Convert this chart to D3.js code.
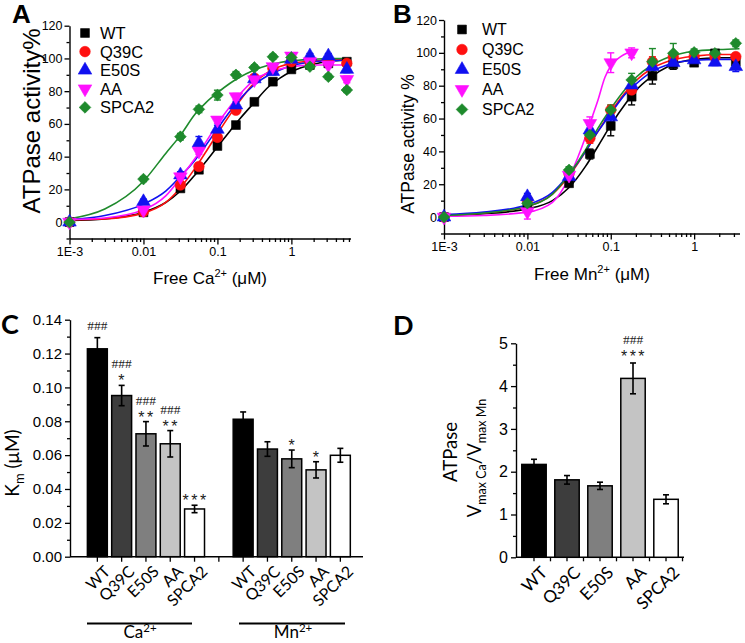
<!DOCTYPE html>
<html><head><meta charset="utf-8">
<script src="https://cdn.jsdelivr.net/npm/d3@7"></script>
<style>body{margin:0;background:#fff} svg{display:block}</style>
</head><body>
<script>
// ---------- DATA ----------
const seriesNames = ["WT", "Q39C", "E50S", "AA", "SPCA2"];
const seriesColors = ["#000000", "#ff1010", "#1010f0", "#ff10ff", "#1e8a2c"];
const seriesSymbols = ["square", "circle", "triangle", "invtriangle", "diamond"];

// Panel A: Ca2+ titration (free Ca2+, µM) -> ATPase activity %
const caConc = [0.001, 0.01, 0.0316, 0.0562, 0.1, 0.178, 0.316, 0.562, 1, 1.78, 3.16, 5.62];
const caWT    = [0, 6, 20.6, 32, 46.5, 59.3, 73.5, 85.8, 93.3, 96, 97, 98];
const caQ39C  = [0, 6.4, 22.7, 34, 51.8, 68.4, 88, 94, 98, 98, 98, 97];
const caE50S  = [0, 12.5, 28.8, 48.3, 56.7, 71.5, 87.5, 92, 99.4, 101.5, 101.5, 93.3];
const caAA    = [0, 7.4, 27.7, 43.4, 62.4, 76.6, 87, 95, 101.5, 98, 96, 87.2];
const caSPCA2 = [0, 26.3, 52.2, 68.9, 77.6, 90, 94.5, 101, 100.6, 95, 88.8, 80.7];
const caErrWT    = [1, 1, 1.5, 2, 2, 2, 2, 2, 1.5, 1.5, 1.5, 1.5];
const caErrQ39C  = [1, 1, 1.5, 2, 2, 2, 2, 1.5, 1.5, 1.5, 1.5, 1.5];
const caErrE50S  = [1, 1.5, 2, 4, 2.5, 2, 2, 2, 1.5, 1.5, 1.5, 2];
const caErrAA    = [1, 1, 1.5, 2, 2, 2, 2, 1.5, 1.5, 1.5, 1.5, 2];
const caErrSPCA2 = [1, 1.5, 2, 2, 3, 2, 1.5, 1.5, 1.5, 1.5, 1.5, 1.5];
// fitted curves
const caFitX      = [0.001, 0.003, 0.01, 0.02, 0.0316, 0.05, 0.07, 0.1, 0.15, 0.2, 0.3, 0.5, 0.7, 1, 2, 3, 6.3];
const caFitWT     = [1, 2, 6, 12, 19, 29, 37, 46, 56, 63, 72, 83, 88, 92, 96.5, 98, 99];
const caFitQ39C   = [1.5, 2, 5.5, 12, 21, 33, 43, 54, 66, 74, 84, 92, 95, 97, 98.5, 99, 99.5];
const caFitE50S   = [1.5, 4, 11, 19, 28, 38, 47, 57, 68, 75, 83, 90, 93, 95.5, 98, 98.5, 99];
const caFitAA     = [1.5, 2.5, 7.5, 16, 27, 39, 49, 60, 71, 78, 86, 91.5, 93.5, 95, 96, 96, 96];
const caFitSPCA2  = [2, 8, 25, 42, 53, 66, 73, 79, 85, 88.5, 92.5, 96, 97.5, 98.5, 99.5, 100, 100];

// Panel B: Mn2+ titration
const mnConc = [0.001, 0.01, 0.0316, 0.0562, 0.1, 0.178, 0.316, 0.562, 1, 1.78, 3.16];
const mnWT    = [0, 6.3, 20.6, 38.4, 55.5, 73.3, 86, 93, 94, 99.7, 94.6];
const mnQ39C  = [0, 10.4, 26.5, 48, 65.2, 77.4, 94.6, 97.5, 97.7, 97.5, 97.7];
const mnE50S  = [0, 12.4, 24.6, 53, 61, 80.4, 91.6, 94, 95.7, 94.3, 91.6];
const mnAA    = [0, 3.3, 25.5, 57, 94, 100];
const mnSPCA2 = [0, 8.4, 28.7, 50, 65.2, 83.5, 94.6, 99.7, 100.3, 99.7, 105.8];
const mnErrWT    = [1, 2, 2, 3, 6, 5, 5, 3, 2, 2, 3];
const mnErrQ39C  = [1, 2, 2, 3, 3, 3, 3, 2, 2, 2, 2];
const mnErrE50S  = [1, 2, 2, 3, 3, 3, 2, 2, 2, 2, 3];
const mnErrAA    = [1, 4.5, 3, 4, 6, 3];
const mnErrSPCA2 = [1, 2, 2, 3, 3, 4, 8, 6, 2, 2, 2];
const mnFitX     = [0.001, 0.003, 0.01, 0.02, 0.0316, 0.05, 0.07, 0.1, 0.15, 0.2, 0.3, 0.5, 1, 2, 3.5];
const mnFitWT    = [1, 2, 5, 10, 18, 31, 43, 56, 69, 77, 85, 92, 96, 97, 97];
const mnFitQ39C  = [1, 2.5, 6.5, 14, 25, 40, 52, 64, 76, 83, 90, 95, 98, 99, 99];
const mnFitE50S  = [1.5, 3, 7.5, 15, 26, 40, 52, 63, 75, 81, 88, 93, 95.5, 96, 96];
const mnFitSPCA2 = [1, 2.5, 6.5, 14, 26, 41, 54, 66, 78, 85, 92, 97.5, 101, 102, 102.5];
const mnFitAAX   = [0.001, 0.003, 0.01, 0.02, 0.0316, 0.04, 0.05, 0.06, 0.07, 0.085, 0.1, 0.13, 0.16, 0.2];
const mnFitAA    = [0.5, 1, 3, 9, 24, 36, 49, 61, 71, 85, 92, 97.5, 100, 101.5];

const logTicks = [0.001, 0.01, 0.1, 1];
const logTickLabels = ["1E-3", "0.01", "0.1", "1"];
const pctTicks = [0, 20, 40, 60, 80, 100, 120];

// Panel C: Km (µM)
const kmCats = ["WT", "Q39C", "E50S", "AA", "SPCA2"];
const kmCa    = [0.1228, 0.0952, 0.0726, 0.0667, 0.0282];
const kmCaErr = [0.0066, 0.006, 0.0072, 0.0078, 0.0022];
const kmMn    = [0.0812, 0.0636, 0.0578, 0.0513, 0.0599];
const kmMnErr = [0.0043, 0.0043, 0.0052, 0.0048, 0.0041];
const kmCaHash  = ["###", "###", "###", "###", ""];
const kmCaStars = ["", "*", "**", "**", "***"];
const kmMnStars = ["", "", "*", "*", ""];
const kmTicks = [0, 0.02, 0.04, 0.06, 0.08, 0.10, 0.12, 0.14];
const barFills = ["#000000", "#3d3d3d", "#7f7f7f", "#c4c4c4", "#ffffff"];

// Panel D: Vmax Ca / Vmax Mn
const vCats  = ["WT", "Q39C", "E50S", "AA", "SPCA2"];
const vRatio = [2.17, 1.81, 1.67, 4.18, 1.355];
const vErr   = [0.12, 0.1, 0.085, 0.36, 0.105];
const vHash  = ["", "", "", "###", ""];
const vStars = ["", "", "", "***", ""];
const vTicks = [0, 1, 2, 3, 4, 5];

// ---------- DRAWING ----------
const W = 745, H = 643;
const ARIAL = "'Liberation Sans', Arial, sans-serif";
const CALI = "Lato, 'Open Sans', sans-serif";
const svg = d3.select("body").append("svg").attr("width", W).attr("height", H)
  .attr("font-family", ARIAL);
svg.append("rect").attr("width", W).attr("height", H).attr("fill", "#fff");

function symbolPath(kind) {
  if (kind === "square") return d3.symbol(d3.symbolSquare, 78)();
  if (kind === "circle") return d3.symbol(d3.symbolCircle, 88)();
  if (kind === "triangle" || kind === "invtriangle") return d3.symbol(d3.symbolTriangle, 80)();
  return d3.symbol(d3.symbolSquare, 68)();
}
function symbolRot(kind) {
  if (kind === "invtriangle") return 180;
  if (kind === "diamond") return 45;
  return 0;
}
function drawMarker(g, kind, color, x, y) {
  g.append("path").attr("d", symbolPath(kind))
    .attr("transform", `translate(${x},${y}) rotate(${symbolRot(kind)})`)
    .attr("fill", color).attr("stroke", color).attr("stroke-width", 0.6);
}

function styleAxis(g, fs) {
  g.selectAll("path.domain").attr("stroke", "#000").attr("stroke-width", 1.4);
  g.selectAll(".tick line").attr("stroke", "#000").attr("stroke-width", 1.3);
  g.selectAll(".tick text").attr("font-family", ARIAL).attr("font-size", fs).attr("fill", "#000");
}

function logMinor(max) {
  const out = [];
  [0.001, 0.01, 0.1, 1].forEach(d => { for (let k = 2; k <= 9; k++) { const v = k * d; if (v <= max) out.push(v); } });
  return out;
}

function dosePanel(cfg) {
  const x = d3.scaleLog().domain([0.001, cfg.xmax]).range([cfg.x0, cfg.x1]);
  const y = d3.scaleLinear().domain([-10, 120]).range([cfg.y0, cfg.y1]);
  const g = svg.append("g");

  const ax = g.append("g").attr("transform", `translate(0,${cfg.y0})`)
    .call(d3.axisBottom(x).tickValues(logTicks).tickFormat((d, i) => logTickLabels[i]).tickSize(6).tickSizeOuter(0).tickPadding(3));
  styleAxis(ax, 12.5);
  const axm = g.append("g").attr("transform", `translate(0,${cfg.y0})`)
    .call(d3.axisBottom(x).tickValues(logMinor(cfg.xmax)).tickFormat("").tickSize(3.5).tickSizeOuter(0));
  axm.select("path.domain").remove(); styleAxis(axm, 12);
  const ay = g.append("g").attr("transform", `translate(${cfg.x0},0)`)
    .call(d3.axisLeft(y).tickValues(pctTicks).tickFormat(d3.format("d")).tickSize(5).tickSizeOuter(0).tickPadding(2));
  styleAxis(ay, 12.5);
  const aym = g.append("g").attr("transform", `translate(${cfg.x0},0)`)
    .call(d3.axisLeft(y).tickValues([-10, 10, 30, 50, 70, 90, 110]).tickFormat("").tickSize(3).tickSizeOuter(0));
  aym.select("path.domain").remove(); styleAxis(aym, 12);

  const line = d3.line().x(d => x(d[0])).y(d => y(d[1])).curve(d3.curveMonotoneX);
  cfg.fits.forEach((f, i) => {
    g.append("path").datum(f.x.map((v, j) => [v, f.y[j]]))
      .attr("d", line).attr("fill", "none").attr("stroke", seriesColors[i]).attr("stroke-width", 1.6);
  });
  cfg.series.forEach((s, i) => {
    s.y.forEach((v, j) => {
      const cx = x(s.x[j]), e = s.e[j];
      const yt = y(v + e), yb = y(v - e);
      g.append("line").attr("x1", cx).attr("x2", cx).attr("y1", yt).attr("y2", yb)
        .attr("stroke", seriesColors[i]).attr("stroke-width", 1.4);
      [yt, yb].forEach(yy => g.append("line").attr("x1", cx - 3.5).attr("x2", cx + 3.5).attr("y1", yy).attr("y2", yy)
        .attr("stroke", seriesColors[i]).attr("stroke-width", 1.4));
    });
  });
  cfg.series.forEach((s, i) => {
    s.y.forEach((v, j) => drawMarker(g, seriesSymbols[i], seriesColors[i], x(s.x[j]), y(v)));
  });

  seriesNames.forEach((n, i) => {
    const ly = cfg.legY + i * cfg.legDy;
    drawMarker(g, seriesSymbols[i], seriesColors[i], cfg.legMx, ly);
    g.append("text").attr("x", cfg.legTx).attr("y", ly).attr("dy", "0.36em")
      .attr("font-size", cfg.legFs).attr("fill", "#000").text(n);
  });

  g.append("text").attr("transform", `translate(${cfg.yTitleX},${cfg.yTitleY}) rotate(-90)`)
    .attr("text-anchor", "middle").attr("font-size", cfg.yTitleFs).text(cfg.yTitle);
  const xt = g.append("text").attr("x", cfg.xTitleX).attr("y", cfg.xTitleY)
    .attr("text-anchor", "middle").attr("font-size", 17);
  xt.append("tspan").text("Free " + cfg.ion);
  xt.append("tspan").attr("font-size", 11).attr("dy", -7).text("2+");
  xt.append("tspan").attr("dy", 7).text(" (μM)");

  g.append("text").attr("x", cfg.labX).attr("y", cfg.labY).attr("font-size", 26)
    .attr("font-weight", "bold").text(cfg.label);
}

dosePanel({
  label: "A", labX: 12, labY: 23,
  xmax: 6.3, x0: 69.5, x1: 350.5, y0: 238.5, y1: 25.7,
  fits: [
    { x: caFitX, y: caFitWT }, { x: caFitX, y: caFitQ39C }, { x: caFitX, y: caFitE50S },
    { x: caFitX, y: caFitAA }, { x: caFitX, y: caFitSPCA2 }],
  series: [
    { x: caConc, y: caWT, e: caErrWT }, { x: caConc, y: caQ39C, e: caErrQ39C },
    { x: caConc, y: caE50S, e: caErrE50S }, { x: caConc, y: caAA, e: caErrAA },
    { x: caConc, y: caSPCA2, e: caErrSPCA2 }],
  legY: 33, legDy: 18.6, legMx: 85, legTx: 100, legFs: 16.5,
  yTitle: "ATPase activity%", yTitleX: 40, yTitleY: 121, yTitleFs: 24,
  ion: "Ca", xTitleX: 210, xTitleY: 284
});

dosePanel({
  label: "B", labX: 393, labY: 23,
  xmax: 3.5, x0: 444, x1: 739.5, y0: 233.5, y1: 20,
  fits: [
    { x: mnFitX, y: mnFitWT }, { x: mnFitX, y: mnFitQ39C }, { x: mnFitX, y: mnFitE50S },
    { x: mnFitAAX, y: mnFitAA }, { x: mnFitX, y: mnFitSPCA2 }],
  series: [
    { x: mnConc, y: mnWT, e: mnErrWT }, { x: mnConc, y: mnQ39C, e: mnErrQ39C },
    { x: mnConc, y: mnE50S, e: mnErrE50S }, { x: mnConc.slice(0, mnAA.length), y: mnAA, e: mnErrAA },
    { x: mnConc, y: mnSPCA2, e: mnErrSPCA2 }],
  legY: 29.5, legDy: 20, legMx: 462, legTx: 482, legFs: 16,
  yTitle: "ATPase activity %", yTitleX: 414, yTitleY: 144, yTitleFs: 17.5,
  ion: "Mn", xTitleX: 592, xTitleY: 280
});

function annotate(g, cx, errTop, hash, stars, fsStar) {
  if (stars) {
    g.append("text").attr("x", cx + 1).attr("y", errTop + 1).attr("text-anchor", "middle")
      .attr("font-size", fsStar).attr("letter-spacing", 2.5).attr("fill", "#1a1a1a").text(stars);
  }
  if (hash) {
    g.append("text").attr("x", cx).attr("y", stars ? errTop - 17 : errTop - 8).attr("text-anchor", "middle")
      .attr("font-family", "'Liberation Serif', serif").attr("font-size", 13.5).attr("fill", "#222").text(hash);
  }
}

function barWithErr(g, xl, w, y, v, e, fill) {
  g.append("rect").attr("x", xl).attr("y", y(v)).attr("width", w).attr("height", y(0) - y(v))
    .attr("fill", fill).attr("stroke", "#000").attr("stroke-width", 1.5);
  const cx = xl + w / 2;
  g.append("line").attr("x1", cx).attr("x2", cx).attr("y1", y(v + e)).attr("y2", y(v - e))
    .attr("stroke", "#000").attr("stroke-width", 1.6);
  [v + e, v - e].forEach(t => g.append("line").attr("x1", cx - 3).attr("x2", cx + 3)
    .attr("y1", y(t)).attr("y2", y(t)).attr("stroke", "#000").attr("stroke-width", 1.6));
}

// ---------- Panel C ----------
(function () {
  const g = svg.append("g");
  const slots = kmCats.map(c => "Ca-" + c).concat(["gap"], kmCats.map(c => "Mn-" + c));
  const x = d3.scaleBand().domain(slots).range([85.2, 352.5]).paddingInner(0.18).paddingOuter(0.09);
  const y = d3.scaleLinear().domain([0, 0.14]).range([556.7, 319.7]);
  const ay = g.append("g").attr("transform", "translate(70,0)")
    .call(d3.axisLeft(y).tickValues(kmTicks).tickFormat(d3.format(".2f")).tickSize(5).tickSizeOuter(0).tickPadding(3));
  styleAxis(ay, 15);
  const aym = g.append("g").attr("transform", "translate(70,0)")
    .call(d3.axisLeft(y).tickValues([0.01, 0.03, 0.05, 0.07, 0.09, 0.11, 0.13]).tickFormat("").tickSize(3));
  aym.select("path.domain").remove(); styleAxis(aym, 12);
  g.append("line").attr("x1", 70).attr("x2", 363).attr("y1", y(0)).attr("y2", y(0))
    .attr("stroke", "#000").attr("stroke-width", 1.4);
  slots.forEach(s => g.append("line").attr("x1", x(s) + x.bandwidth() / 2).attr("x2", x(s) + x.bandwidth() / 2)
    .attr("y1", y(0)).attr("y2", y(0) + 5).attr("stroke", "#000").attr("stroke-width", 1.3));

  kmCats.forEach((c, i) => {
    barWithErr(g, x("Ca-" + c), x.bandwidth(), y, kmCa[i], kmCaErr[i], barFills[i]);
    barWithErr(g, x("Mn-" + c), x.bandwidth(), y, kmMn[i], kmMnErr[i], barFills[i]);
    annotate(g, x("Ca-" + c) + x.bandwidth() / 2, y(kmCa[i] + kmCaErr[i]), kmCaHash[i], kmCaStars[i], 16);
    annotate(g, x("Mn-" + c) + x.bandwidth() / 2, y(kmMn[i] + kmMnErr[i]), "", kmMnStars[i], 16);
  });
  slots.filter(s => s !== "gap").forEach(s => {
    const cx = x(s) + x.bandwidth() / 2;
    g.append("text").attr("transform", `translate(${cx + 6},${y(0) + 8}) rotate(-45)`)
      .attr("text-anchor", "end").attr("dy", "0.7em").attr("font-family", CALI).attr("font-size", 16)
      .text(s.split("-")[1]);
  });
  [["Ca", 87, 192, 140], ["Mn", 239, 345, 293]].forEach(([ion, a, b, c]) => {
    g.append("line").attr("x1", a).attr("x2", b).attr("y1", 623.5).attr("y2", 623.5)
      .attr("stroke", "#000").attr("stroke-width", 2);
    const t = g.append("text").attr("x", c).attr("y", 638).attr("text-anchor", "middle")
      .attr("font-family", CALI).attr("font-size", 17);
    t.append("tspan").text(ion);
    t.append("tspan").attr("font-size", 11.5).attr("dy", -6).text("2+");
  });
  const yt = g.append("text").attr("transform", "translate(19,463) rotate(-90)")
    .attr("text-anchor", "middle").attr("font-family", CALI).attr("font-size", 19);
  yt.append("tspan").text("K");
  yt.append("tspan").attr("font-size", 13).attr("dy", 5).text("m");
  yt.append("tspan").attr("dy", -5).text(" (μM)");
  g.append("text").attr("x", 1).attr("y", 334).attr("font-family", CALI).attr("font-size", 27)
    .attr("font-weight", "bold").text("C");
})();

// ---------- Panel D ----------
(function () {
  const g = svg.append("g");
  const x = d3.scaleBand().domain(vCats).range([516, 684]).paddingInner(0.26).paddingOuter(0.175);
  const y = d3.scaleLinear().domain([0, 5]).range([557.3, 343.3]);
  const ay = g.append("g").attr("transform", "translate(516,0)")
    .call(d3.axisLeft(y).tickValues(vTicks).tickFormat(d3.format("d")).tickSize(5).tickSizeOuter(0).tickPadding(3));
  styleAxis(ay, 16);
  const aym = g.append("g").attr("transform", "translate(516,0)")
    .call(d3.axisLeft(y).tickValues([0.5, 1.5, 2.5, 3.5, 4.5]).tickFormat("").tickSize(3));
  aym.select("path.domain").remove(); styleAxis(aym, 12);
  g.append("line").attr("x1", 516).attr("x2", 684).attr("y1", y(0)).attr("y2", y(0))
    .attr("stroke", "#000").attr("stroke-width", 1.4);
  vCats.forEach((c, i) => {
    const cx = x(c) + x.bandwidth() / 2;
    [cx, cx + x.step() / 2].forEach(tx => g.append("line").attr("x1", tx).attr("x2", tx)
      .attr("y1", y(0)).attr("y2", y(0) + 4).attr("stroke", "#000").attr("stroke-width", 1.3));
    barWithErr(g, x(c), x.bandwidth(), y, vRatio[i], vErr[i], barFills[i]);
    annotate(g, cx, y(vRatio[i] + vErr[i]) - 2, vHash[i], vStars[i], 16);
    g.append("text").attr("transform", `translate(${cx + 6},${y(0) + 8}) rotate(-45)`)
      .attr("text-anchor", "end").attr("dy", "0.7em").attr("font-family", CALI).attr("font-size", 17)
      .text(c);
  });
  g.append("text").attr("transform", "translate(457,452) rotate(-90)")
    .attr("text-anchor", "middle").attr("font-family", CALI).attr("font-size", 18.5).text("ATPase");
  const t = g.append("text").attr("transform", "translate(481,458) rotate(-90)")
    .attr("text-anchor", "middle").attr("font-family", CALI).attr("font-size", 18.5);
  t.append("tspan").text("V");
  t.append("tspan").attr("font-size", 12.5).attr("dy", 5).text("max Ca");
  t.append("tspan").attr("dy", -5).text("/V");
  t.append("tspan").attr("font-size", 12.5).attr("dy", 5).text("max Mn");
  g.append("text").attr("x", 393).attr("y", 335).attr("font-family", CALI).attr("font-size", 27)
    .attr("font-weight", "bold").text("D");
})();
</script>
</body></html>
